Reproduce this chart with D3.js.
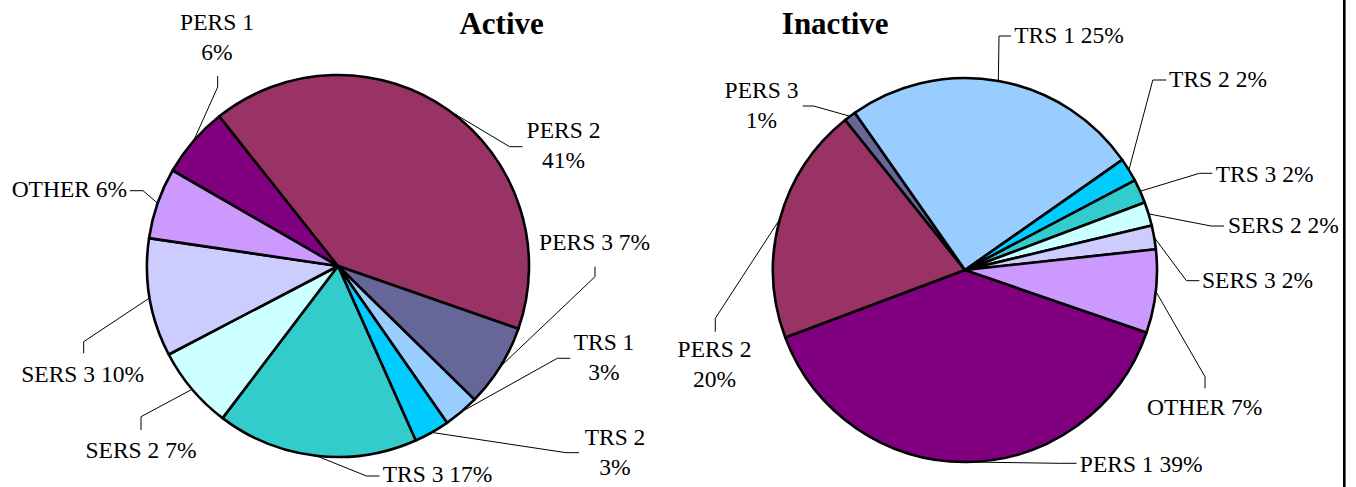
<!DOCTYPE html>
<html>
<head>
<meta charset="utf-8">
<script src="https://cdn.jsdelivr.net/npm/d3@7/dist/d3.min.js"></script>
<style>
  html, body { margin: 0; padding: 0; background: #fff; }
  svg { display: block; }
</style>
</head>
<body>
<svg id="chart" width="1356" height="487"></svg>
<script>
// Membership share by plan, active vs inactive members
const categories = ["PERS 1", "PERS 2", "PERS 3", "TRS 1", "TRS 2", "TRS 3", "SERS 2", "SERS 3", "OTHER"];
const activeValues = [6, 41, 7, 3, 3, 17, 7, 10, 6];
const inactiveValues = [39, 20, 1, 25, 2, 2, 2, 2, 7];
const sliceColors = ["#800080", "#993366", "#666699", "#99CCFF", "#00CCFF", "#33CCCC", "#CCFFFF", "#CCCCFF", "#CC99FF"];
const chartTitles = ["Active", "Inactive"];

const FONT = "'Liberation Serif', 'Times New Roman', 'DejaVu Serif', serif";

// Label placement for each slice: text centre x, first baseline y,
// whether name and percentage wrap onto two lines, and the leader elbow points.
const activeLabelLayout = [
  { x: 217,   y: 30,    wrap: true,  leader: [[217.7, 76], [217.7, 87]] },
  { x: 563.5, y: 138.3, wrap: true,  leader: [[522.6, 146.7], [509.6, 146.7]] },
  { x: 594.6, y: 250,   wrap: false, leader: [[595, 266.7], [595, 276.7]] },
  { x: 604,   y: 350,   wrap: true,  leader: [[570.3, 358.3], [557.3, 358.3]] },
  { x: 615,   y: 445,   wrap: true,  leader: [[579, 452.7], [566, 452.7]] },
  { x: 437.5, y: 481.5, wrap: false, leader: [[379.5, 476], [366.5, 476]] },
  { x: 141,   y: 458.3, wrap: false, leader: [[141, 430], [141, 416.7]] },
  { x: 82.6,  y: 381.7, wrap: false, leader: [[83.7, 353.3], [83.7, 341.7]] },
  { x: 69.4,  y: 196.7, wrap: false, leader: [[130, 190.7], [143, 190.7]] }
];
const inactiveLabelLayout = [
  { x: 1141.2, y: 471.7, wrap: false, leader: [[1076.5, 463.3], [1059.3, 463.3]] },
  { x: 714.5,  y: 356.7, wrap: true,  leader: [[715.3, 331.7], [715.3, 318.3]] },
  { x: 761.5,  y: 98.3,  wrap: true,  leader: [[802.8, 106], [813.6, 106]] },
  { x: 1069,   y: 43.3,  wrap: false, leader: [[1011, 36], [999, 36]] },
  { x: 1218,   y: 86.7,  wrap: false, leader: [[1166.2, 80], [1152.8, 80]] },
  { x: 1264.6, y: 181.7, wrap: false, leader: [[1212.3, 173.3], [1199.4, 173.3]] },
  { x: 1283.4, y: 233.3, wrap: false, leader: [[1224, 226], [1211, 226]] },
  { x: 1257.5, y: 288.3, wrap: false, leader: [[1199.4, 280.7], [1186.4, 280.7]] },
  { x: 1204.7, y: 415,   wrap: false, leader: [[1205, 388.3], [1205, 376.7]] }
];

const svg = d3.select("#chart");
svg.append("rect").attr("width", 1356).attr("height", 487).attr("fill", "#fff");

const deg = Math.PI / 180;
const panels = [
  { title: chartTitles[0], values: activeValues, layout: activeLabelLayout,
    cx: 338, cy: 266, r: 191, start: -60 * deg, titleX: 501.6, titleY: 34.3 },
  { title: chartTitles[1], values: inactiveValues, layout: inactiveLabelLayout,
    cx: 965, cy: 270, r: 192, start: 109 * deg, titleX: 835.2, titleY: 34.3 }
];

const color = d3.scaleOrdinal().domain(categories).range(sliceColors);

panels.forEach(p => {
  const pie = d3.pie().sort(null).value(d => d.value)
    .startAngle(p.start).endAngle(p.start + 2 * Math.PI);
  const rows = categories.map((c, i) => ({ cat: c, value: p.values[i], layout: p.layout[i] }));
  const arcs = pie(rows);
  const arc = d3.arc().innerRadius(0).outerRadius(p.r);
  const rim = d3.arc().innerRadius(p.r).outerRadius(p.r);

  // leader lines from label to slice rim
  const line = d3.line();
  svg.append("g").selectAll("path").data(arcs).join("path")
    .attr("d", d => {
      const c = rim.centroid(d);
      const pts = d.data.layout.leader.concat([[p.cx + c[0], p.cy + c[1]]]);
      return line(pts);
    })
    .attr("fill", "none").attr("stroke", "#000").attr("stroke-width", 1);

  // slices
  svg.append("g").attr("transform", `translate(${p.cx},${p.cy})`)
    .selectAll("path").data(arcs).join("path")
    .attr("d", arc)
    .attr("fill", d => color(d.data.cat))
    .attr("stroke", "#000").attr("stroke-width", 2.6).attr("stroke-linejoin", "round");

  // slice labels
  const labels = svg.append("g").selectAll("text").data(arcs).join("text")
    .attr("x", d => d.data.layout.x)
    .attr("y", d => d.data.layout.y)
    .attr("text-anchor", "middle")
    .attr("font-family", FONT)
    .attr("font-size", "23.5px")
    .attr("fill", "#000");
  labels.each(function (d) {
    const t = d3.select(this);
    const pct = d.data.value + "%";
    if (d.data.layout.wrap) {
      t.append("tspan").attr("x", d.data.layout.x).text(d.data.cat);
      t.append("tspan").attr("x", d.data.layout.x).attr("dy", 30).text(pct);
    } else {
      t.text(d.data.cat + " " + pct);
    }
  });

  // title
  svg.append("text").attr("x", p.titleX).attr("y", p.titleY)
    .attr("text-anchor", "middle")
    .attr("font-family", FONT)
    .attr("font-size", "31px").attr("font-weight", "bold")
    .attr("fill", "#000")
    .text(p.title);
});

// frame edge on the right
svg.append("rect").attr("x", 1343).attr("y", 0).attr("width", 2.6).attr("height", 487).attr("fill", "#000");
</script>
</body>
</html>
